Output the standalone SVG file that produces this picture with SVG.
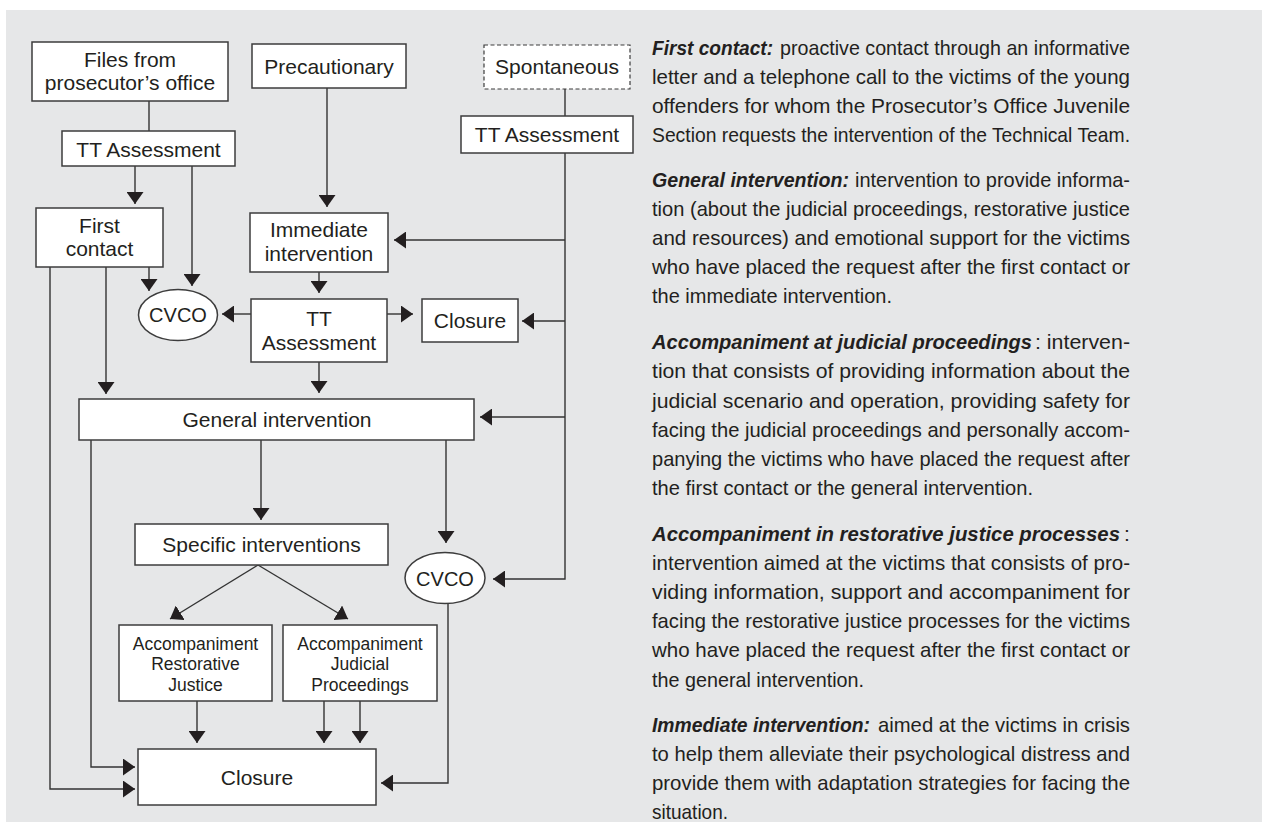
<svg xmlns="http://www.w3.org/2000/svg" width="1262" height="823" viewBox="0 0 1262 823">
<defs>
<style>
.box{fill:#fff;stroke:#3c3c3c;stroke-width:1.5}
.dash{fill:#fff;stroke:#3c3c3c;stroke-width:1.2;stroke-dasharray:4 2.5}
.lbl{font-family:"Liberation Sans",Arial,sans-serif;font-size:21px;fill:#231f20;text-anchor:middle}
.sm{font-size:17.5px}
.ln{fill:none;stroke:#333;stroke-width:1.4}
.ar{marker-end:url(#ah)}
.tx{font-family:"Liberation Sans",Arial,sans-serif;font-size:21px;fill:#231f20}
.b{font-weight:bold;font-style:italic;font-size:20px}
</style>
<marker id="ah" viewBox="0 0 12 17" refX="12" refY="8.5" markerWidth="12" markerHeight="17" markerUnits="userSpaceOnUse" orient="auto"><path d="M0,0 L12,8.5 L0,17 Z" fill="#231f20"/></marker>
</defs>
<rect x="0" y="0" width="1262" height="823" fill="#fff"/>
<rect x="6" y="10" width="1256" height="812" fill="#e6e7e8"/>

<g id="connectors">
<path class="ln" d="M149,101 V131"/>
<path class="ln ar" d="M135,166 V204"/>
<path class="ln ar" d="M192,166 V286"/>
<path class="ln ar" d="M149,267 V291"/>
<path class="ln ar" d="M327,88 V207"/>
<path class="ln" d="M565,89 V116"/>
<path class="ln ar" d="M565,153 V579 H493"/>
<path class="ln ar" d="M565,240 H394"/>
<path class="ln ar" d="M319,272 V293"/>
<path class="ln ar" d="M251,314 H222"/>
<path class="ln ar" d="M387,314 H413"/>
<path class="ln ar" d="M565,321 H522"/>
<path class="ln ar" d="M319,362 V393"/>
<path class="ln ar" d="M106,267 V394"/>
<path class="ln ar" d="M565,417 H480"/>
<path class="ln ar" d="M261,440 V520"/>
<path class="ln ar" d="M446,440 V543"/>
<path class="ln ar" d="M258,565 L170,619"/>
<path class="ln ar" d="M258,565 L348,619"/>
<path class="ln ar" d="M197,701 V743"/>
<path class="ln ar" d="M324,701 V743"/>
<path class="ln ar" d="M360,701 V743"/>
<path class="ln ar" d="M448,604 V783 H381"/>
<path class="ln ar" d="M50,267 V789 H135"/>
<path class="ln ar" d="M91,440 V767 H135"/>
</g>

<g id="files"><rect class="box" x="32" y="42" width="196" height="59"/><text class="lbl" x="130" y="67">Files from</text><text class="lbl" x="130" y="90">prosecutor’s office</text></g>
<g id="precautionary"><rect class="box" x="252" y="44" width="154" height="44"/><text class="lbl" x="329" y="74">Precautionary</text></g>
<g id="spontaneous"><rect class="dash" x="484" y="45" width="146" height="44"/><text class="lbl" x="557" y="74">Spontaneous</text></g>
<g id="tt1"><rect class="box" x="62" y="131" width="173" height="35"/><text class="lbl" x="148.5" y="157">TT Assessment</text></g>
<g id="tt2"><rect class="box" x="461" y="116" width="172" height="37"/><text class="lbl" x="547" y="142">TT Assessment</text></g>
<g id="firstcontact"><rect class="box" x="36" y="208" width="127" height="59"/><text class="lbl" x="99.5" y="233">First</text><text class="lbl" x="99.5" y="256">contact</text></g>
<g id="immediate"><rect class="box" x="250" y="213" width="138" height="59"/><text class="lbl" x="319" y="237">Immediate</text><text class="lbl" x="319" y="261">intervention</text></g>
<g id="cvco1"><ellipse class="box" cx="178" cy="315" rx="39.5" ry="25.5"/><text class="lbl" x="178" y="322" style="font-size:20px">CVCO</text></g>
<g id="tt3"><rect class="box" x="251" y="299" width="136" height="63"/><text class="lbl" x="319" y="326">TT</text><text class="lbl" x="319" y="350">Assessment</text></g>
<g id="closure1"><rect class="box" x="422" y="299" width="96" height="43"/><text class="lbl" x="470" y="328">Closure</text></g>
<g id="general"><rect class="box" x="79" y="399" width="395" height="41"/><text class="lbl" x="277" y="427">General intervention</text></g>
<g id="specific"><rect class="box" x="135" y="524" width="253" height="41"/><text class="lbl" x="261.5" y="552">Specific interventions</text></g>
<g id="cvco2"><ellipse class="box" cx="445" cy="578" rx="40" ry="25.5"/><text class="lbl" x="445" y="586" style="font-size:20px">CVCO</text></g>
<g id="accrj"><rect class="box" x="119" y="625" width="153" height="76"/><text class="lbl sm" x="195.5" y="650">Accompaniment</text><text class="lbl sm" x="195.5" y="670">Restorative</text><text class="lbl sm" x="195.5" y="691">Justice</text></g>
<g id="accjp"><rect class="box" x="283" y="625" width="154" height="76"/><text class="lbl sm" x="360" y="650">Accompaniment</text><text class="lbl sm" x="360" y="670">Judicial</text><text class="lbl sm" x="360" y="691">Proceedings</text></g>
<g id="closure2"><rect class="box" x="138" y="749" width="238" height="56"/><text class="lbl" x="257" y="785">Closure</text></g>

<g id="legend" class="tx">
<text class="b" x="652" y="55" textLength="121" lengthAdjust="spacingAndGlyphs">First contact:</text>
<text x="780" y="55" textLength="350" lengthAdjust="spacingAndGlyphs">proactive contact through an informative</text>
<text x="652" y="84" textLength="478" lengthAdjust="spacingAndGlyphs">letter and a telephone call to the victims of the young</text>
<text x="652" y="113" textLength="478" lengthAdjust="spacingAndGlyphs">offenders for whom the Prosecutor’s Office Juvenile</text>
<text x="652" y="142" textLength="478" lengthAdjust="spacingAndGlyphs">Section requests the intervention of the Technical Team.</text>

<text class="b" x="652" y="187" textLength="197" lengthAdjust="spacingAndGlyphs">General intervention:</text>
<text x="855" y="187" textLength="275" lengthAdjust="spacingAndGlyphs">intervention to provide informa-</text>
<text x="652" y="216" textLength="478" lengthAdjust="spacingAndGlyphs">tion (about the judicial proceedings, restorative justice</text>
<text x="652" y="245" textLength="478" lengthAdjust="spacingAndGlyphs">and resources) and emotional support for the victims</text>
<text x="652" y="274" textLength="478" lengthAdjust="spacingAndGlyphs">who have placed the request after the first contact or</text>
<text x="652" y="303" textLength="240" lengthAdjust="spacingAndGlyphs">the immediate intervention.</text>

<text class="b" x="652" y="349" textLength="380" lengthAdjust="spacingAndGlyphs">Accompaniment at judicial proceedings</text>
<text x="1035" y="349" textLength="95" lengthAdjust="spacingAndGlyphs">: interven-</text>
<text x="652" y="378" textLength="478" lengthAdjust="spacingAndGlyphs">tion that consists of providing information about the</text>
<text x="652" y="408" textLength="478" lengthAdjust="spacingAndGlyphs">judicial scenario and operation, providing safety for</text>
<text x="652" y="437" textLength="478" lengthAdjust="spacingAndGlyphs">facing the judicial proceedings and personally accom-</text>
<text x="652" y="466" textLength="478" lengthAdjust="spacingAndGlyphs">panying the victims who have placed the request after</text>
<text x="652" y="495" textLength="381" lengthAdjust="spacingAndGlyphs">the first contact or the general intervention.</text>

<text class="b" x="652" y="541" textLength="468" lengthAdjust="spacingAndGlyphs">Accompaniment in restorative justice processes</text>
<text x="1124" y="541">:</text>
<text x="652" y="570" textLength="478" lengthAdjust="spacingAndGlyphs">intervention aimed at the victims that consists of pro-</text>
<text x="652" y="599" textLength="478" lengthAdjust="spacingAndGlyphs">viding information, support and accompaniment for</text>
<text x="652" y="628" textLength="478" lengthAdjust="spacingAndGlyphs">facing the restorative justice processes for the victims</text>
<text x="652" y="657" textLength="478" lengthAdjust="spacingAndGlyphs">who have placed the request after the first contact or</text>
<text x="652" y="687" textLength="212" lengthAdjust="spacingAndGlyphs">the general intervention.</text>

<text class="b" x="652" y="732" textLength="218" lengthAdjust="spacingAndGlyphs">Immediate intervention:</text>
<text x="878" y="732" textLength="252" lengthAdjust="spacingAndGlyphs">aimed at the victims in crisis</text>
<text x="652" y="761" textLength="478" lengthAdjust="spacingAndGlyphs">to help them alleviate their psychological distress and</text>
<text x="652" y="790" textLength="478" lengthAdjust="spacingAndGlyphs">provide them with adaptation strategies for facing the</text>
<text x="652" y="819" textLength="76" lengthAdjust="spacingAndGlyphs">situation.</text>
</g>
</svg>
